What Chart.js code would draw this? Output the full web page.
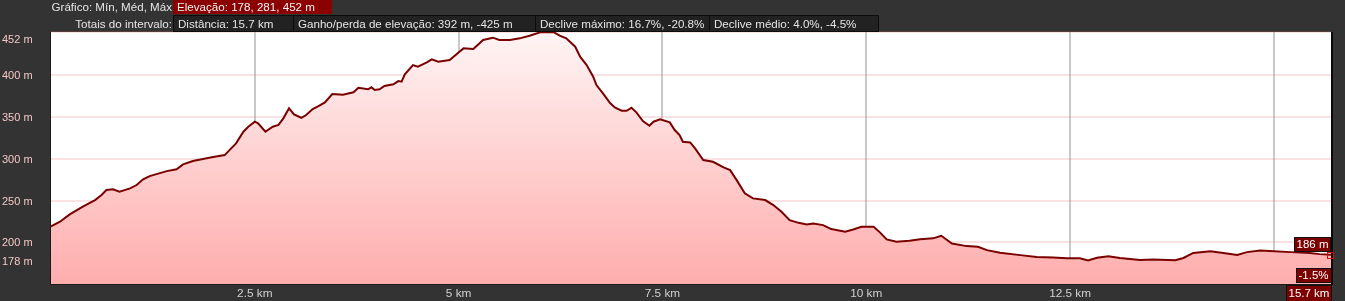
<!DOCTYPE html>
<html>
<head>
<meta charset="utf-8">
<script src="https://cdn.jsdelivr.net/npm/chart.js@4/dist/chart.umd.min.js"></script>
<style>
  html, body { margin: 0; padding: 0; background: #333; overflow: hidden; }
  #wrap { position: relative; width: 1345px; height: 301px; font-family: "Liberation Sans", Arial, sans-serif; font-size: 11.6px; color: #e4e4e4; }
  #chart { position: absolute; left: 0; top: 0; }
  .lbl { position: absolute; left: 0; width: 172px; text-align: right; white-space: nowrap; }
  .box { position: absolute; box-sizing: border-box; padding-left: 4px; white-space: nowrap; }
  .row1 { top: 0; height: 14px; line-height: 14px; }
  .row2 { top: 15px; height: 17px; line-height: 15px; }
  .dark { background: #222; border: 1px solid #0c0c0c; }
  .red { background: #8b0000; color: #f2f2f2; }
</style>
</head>
<body>
<div id="wrap">
  <canvas id="chart" width="1345" height="301"></canvas>
  <div class="lbl row1">Gráfico: Mín, Méd, Máx</div>
  <div class="box row1 red" style="left:173px;width:159px">Elevação: 178, 281, 452 m</div>
  <div class="lbl row2" style="line-height:17px">Totais do intervalo:</div>
  <div class="box row2 dark" style="left:173px;width:121px">Distância: 15.7 km</div>
  <div class="box row2 dark" style="left:293px;width:243px">Ganho/perda de elevação: 392 m, -425 m</div>
  <div class="box row2 dark" style="left:535px;width:175px">Declive máximo: 16.7%, -20.8%</div>
  <div class="box row2 dark" style="left:709px;width:170px">Declive médio: 4.0%, -4.5%</div>
</div>
<script>
// elevation profile
const distKm = [
  0.00, 0.11, 0.23, 0.39, 0.54, 0.62, 0.68, 0.76, 0.84, 0.97,
  1.05, 1.13, 1.21, 1.42, 1.54, 1.62, 1.74, 1.91, 1.99, 2.13,
  2.21, 2.27, 2.36, 2.42, 2.50, 2.54, 2.63, 2.72, 2.79, 2.85,
  2.92, 2.98, 3.07, 3.13, 3.21, 3.28, 3.36, 3.45, 3.58, 3.71,
  3.77, 3.89, 3.93, 3.97, 4.03, 4.09, 4.20, 4.26, 4.30, 4.34,
  4.44, 4.50, 4.61, 4.67, 4.75, 4.89, 5.01, 5.06, 5.18, 5.30,
  5.42, 5.50, 5.63, 5.75, 5.87, 6.00, 6.16, 6.24, 6.32, 6.43,
  6.49, 6.57, 6.65, 6.69, 6.77, 6.86, 6.92, 7.00, 7.06, 7.12,
  7.18, 7.26, 7.34, 7.39, 7.47, 7.59, 7.65, 7.71, 7.75, 7.84,
  7.90, 8.00, 8.12, 8.25, 8.33, 8.41, 8.51, 8.61, 8.76, 8.86,
  8.96, 9.06, 9.17, 9.27, 9.35, 9.47, 9.57, 9.74, 9.84, 9.94,
  10.09, 10.17, 10.25, 10.37, 10.53, 10.66, 10.82, 10.92, 11.05, 11.23,
  11.37, 11.48, 11.64, 11.89, 12.09, 12.29, 12.46, 12.62, 12.72, 12.83,
  12.97, 13.11, 13.36, 13.52, 13.79, 13.89, 14.01, 14.22, 14.38, 14.55,
  14.67, 14.83, 14.95, 15.20, 15.44, 15.56, 15.70
]
const elevM = [
  219, 224.6, 233.4, 242.6, 250.6, 256.6, 262.6, 263.4, 260.6, 264.6,
  268.6, 275.4, 279.3, 285.3, 287.4, 293.4, 297.3, 300.6, 302.1, 304.5,
  312.5, 318.5, 332.5, 338.5, 344.5, 342.5, 332.5, 338.5, 340.6, 348.5,
  360.5, 353.3, 349.2, 352.5, 359.7, 363.3, 367.7, 377.7, 376.8, 379.7,
  385.2, 383.3, 385.7, 382.5, 383.3, 387.3, 389.3, 393.2, 392.4, 401.3,
  412.4, 410.4, 415.7, 419.3, 416.4, 418.4, 428.4, 432.4, 431.6, 442.4,
  445.2, 442.4, 442.4, 444.4, 447.6, 451.6, 452, 447.6, 444.4, 434.4,
  422.4, 412.4, 398.4, 388.4, 378.5, 366.5, 361.2, 357.6, 357.6, 361.2,
  355.7, 345.3, 339.7, 344.5, 347.3, 343.7, 334.5, 328.5, 320.5, 319.7,
  312.5, 298.5, 296.5, 289.8, 286.5, 274.5, 258.6, 252.6, 250.6, 244.6,
  236.6, 226.6, 223.3, 221.4, 222.6, 220.6, 215.8, 212.6, 215.4, 218.6,
  218.6, 211.6, 203.5, 200.6, 201.8, 203.5, 204.7, 207.8, 198.6, 195.4,
  194.6, 190.6, 187.4, 184.6, 182.4, 181.9, 180.8, 180.8, 178.2, 181.4,
  183.2, 181.2, 178.8, 179.3, 178.6, 181.2, 187.2, 189.2, 187.2, 184.8,
  188.2, 190.2, 189.6, 188.2, 187.2, 185.8, 185.2
]
const yTicks = [178, 200, 250, 300, 350, 400, 452]
const xTicks = [2.5, 5, 7.5, 10, 12.5, 15]
const xTickLabels = ["2.5 km", "5 km", "7.5 km", "10 km", "12.5 km", ""]
const endElevText = "186 m"
const endGradeText = "-1.5%"
const endDistText = "15.7 km"

const FONT = "\"Liberation Sans\", Arial, sans-serif"

function tag(ctx, text, right, top, h) {
  ctx.font = "11.5px " + FONT
  const w = Math.ceil(ctx.measureText(text).width) + 5
  const left = right - w
  ctx.fillStyle = "#7d0000"
  ctx.fillRect(left, top, w, h)
  ctx.strokeStyle = "#111"
  ctx.lineWidth = 1
  ctx.strokeRect(left + 0.5, top + 0.5, w - 1, h - 1)
  ctx.fillStyle = "#ffffff"
  ctx.textAlign = "left"
  ctx.textBaseline = "middle"
  ctx.fillText(text, left + 2.5, top + h / 2 + 0.5)
}

const profilePlugin = {
  id: "profile",
  beforeDraw(chart) {
    const { ctx, chartArea: a } = chart
    ctx.save()
    ctx.fillStyle = "#ffffff"
    ctx.fillRect(a.left, a.top, a.right - a.left, a.bottom - a.top)
    ctx.restore()
  },
  afterDraw(chart) {
    const { ctx, chartArea: a } = chart
    const y = chart.scales.y
    ctx.save()
    // y labels, the top one kept inside the plot
    ctx.font = "11px " + FONT
    ctx.fillStyle = "#f3c6c6"
    ctx.textAlign = "left"
    ctx.textBaseline = "middle"
    yTicks.forEach(v => {
      const py = Math.max(y.getPixelForValue(v), a.top + 7)
      ctx.fillText(v + " m", 2, py + 1)
    })
    // frame
    ctx.strokeStyle = "#1a1a1a"
    ctx.lineWidth = 1
    ctx.beginPath()
    ctx.moveTo(a.left - 0.5, a.top)
    ctx.lineTo(a.left - 0.5, a.bottom + 0.5)
    ctx.lineTo(a.right + 0.5, a.bottom + 0.5)
    ctx.stroke()
    ctx.lineWidth = 2
    ctx.strokeStyle = "#0a0a0a"
    ctx.beginPath()
    ctx.moveTo(a.right + 1, a.top)
    ctx.lineTo(a.right + 1, a.bottom + 1)
    ctx.stroke()
    // end point marker and tags
    const pts = chart.getDatasetMeta(0).data
    const last = pts[pts.length - 1]
    ctx.strokeStyle = "#d01010"
    ctx.lineWidth = 1
    ctx.strokeRect(Math.round(last.x) - 3.5, Math.round(last.y) - 2.5, 6, 6)
    tag(ctx, endElevText, a.right, Math.round(last.y) - 18, 15)
    tag(ctx, endGradeText, a.right + 1, a.bottom - 16, 15)
    tag(ctx, endDistText, a.right + 1, a.bottom + 1, 17)
    ctx.restore()
  }
}

const ctx = document.getElementById("chart").getContext("2d")
new Chart(ctx, {
  type: "line",
  data: {
    datasets: [{
      data: distKm.map((d, i) => ({ x: d, y: elevM[i] })),
      borderColor: "#7a0000",
      borderWidth: 2,
      pointRadius: 0,
      tension: 0,
      fill: "start",
      backgroundColor: (c) => {
        const area = c.chart.chartArea
        if (!area) return "#ffc8c8"
        const g = c.chart.ctx.createLinearGradient(0, area.top, 0, area.bottom)
        g.addColorStop(0, "#fff4f4")
        g.addColorStop(1, "#ffadad")
        return g
      }
    }]
  },
  options: {
    responsive: false,
    animation: false,
    layout: { padding: { top: 32, left: 51, right: 14, bottom: 0 } },
    plugins: { legend: { display: false }, tooltip: { enabled: false } },
    scales: {
      x: {
        type: "linear",
        min: 0,
        max: 15.7,
        z: 1,
        afterBuildTicks: (s) => { s.ticks = xTicks.map(v => ({ value: v })) },
        afterFit: (s) => { s.height = 17 },
        grid: { color: "rgba(120,120,120,0.4)", lineWidth: 2, drawTicks: false },
        border: { display: false },
        ticks: {
          color: "#d0d0d0",
          padding: 3,
          autoSkip: false,
          maxRotation: 0,
          font: { family: FONT, size: 11.8 },
          callback: (v, i) => xTickLabels[i]
        }
      },
      y: {
        min: 150,
        max: 452,
        z: 1,
        afterBuildTicks: (s) => { s.ticks = yTicks.map(v => ({ value: v })) },
        grid: { color: "rgba(235,110,110,0.2)", lineWidth: 2, drawTicks: false },
        border: { display: false },
        ticks: { display: false }
      }
    }
  },
  plugins: [profilePlugin]
})
</script>
</body>
</html>
